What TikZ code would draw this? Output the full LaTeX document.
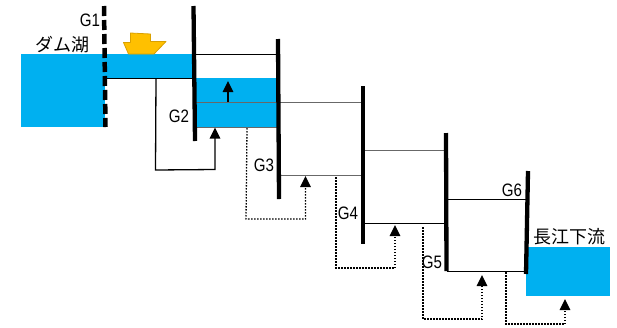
\documentclass[tikz,border=0pt]{standalone}
\usepackage{fontspec}
\setmainfont[FakeStretch=0.84]{Liberation Sans}
\newfontfamily\cjk{Noto Sans CJK JP}
\usetikzlibrary{arrows.meta}
\definecolor{water}{HTML}{00B0F0}
\definecolor{boatfill}{HTML}{FFC000}
\definecolor{boatedge}{HTML}{D9A000}
\definecolor{lvl}{HTML}{686868}
\tikzset{
  gate/.style={line width=4.3pt,black},
  gatedash/.style={line width=4.5pt,black,dash pattern=on 10pt off 4pt},
  levelk/.style={line width=1pt,black},
  levelg/.style={line width=1.3pt,lvl},
  flow/.style={line width=1.3pt,black,-{Triangle[length=11pt,width=10.5pt]}},
  dotflow/.style={line width=1.3pt,black,dash pattern=on 1.5pt off 1.5pt,-{Triangle[length=11pt,width=10.5pt]}},
  lab/.style={font=\fontsize{18}{18}\selectfont,inner sep=0pt,text=black},
  jlab/.style={font=\cjk\fontsize{18}{18}\selectfont,inner sep=0pt,text=black},
}
\begin{document}
\begin{tikzpicture}[x=1pt,y=-1pt]
\useasboundingbox (0,0) rectangle (617,327);
% water
\fill[water] (21,54) rectangle (105,127);
\fill[water] (105,54) rectangle (193,78);
\fill[water] (195,78) rectangle (278,127);
\fill[water] (526,247) rectangle (610,296);
% boat
\filldraw[fill=boatfill,draw=boatedge,line width=0.8pt,line join=round]
 (123.5,42.5) -- (130.5,42.5) -- (130.5,33) -- (150.5,34) -- (150.5,41.5) -- (166,41.5) -- (154,54) -- (128.5,54) -- cycle;
% gate ends
\coordinate (g1t) at (104,6);   \coordinate (g1b) at (105.5,127);
\coordinate (g2t) at (193.5,6); \coordinate (g2b) at (195,141);
\coordinate (g3t) at (278,39);  \coordinate (g3b) at (279,199);
\coordinate (g4t) at (363,86);  \coordinate (g4b) at (363,244);
\coordinate (g5t) at (446,133); \coordinate (g5b) at (446.5,271);
\coordinate (g6t) at (528,171); \coordinate (g6b) at (526,274);
% levels
\coordinate (l1a) at (195,54.5);  \coordinate (l1b) at (278,54.5);
\coordinate (l0a) at (105,78.5);  \coordinate (l0b) at (193,78.5);
\coordinate (l2a) at (196,102.5); \coordinate (l2b) at (278,102.5);
\coordinate (l3a) at (196,127.5); \coordinate (l3b) at (278,127.5);
\coordinate (l4a) at (279,102.5); \coordinate (l4b) at (363,102.5);
\coordinate (l5a) at (279,175.5); \coordinate (l5b) at (363,175.5);
\coordinate (l6a) at (363,150.5); \coordinate (l6b) at (446,150.5);
\coordinate (l7a) at (363,223.5); \coordinate (l7b) at (446,223.5);
\coordinate (l8a) at (446,199.5); \coordinate (l8b) at (527,199.5);
\coordinate (l9a) at (447,271.5); \coordinate (l9b) at (527,271.5);
\draw[levelk] (l1a) -- (l1b);
\draw[levelk] (l0a) -- (l0b);
\draw[levelg] (l2a) -- (l2b);
\draw[levelg] (l3a) -- (l3b);
\draw[levelg] (l4a) -- (l4b);
\draw[levelg] (l5a) -- (l5b);
\draw[levelg] (l6a) -- (l6b);
\draw[levelk] (l7a) -- (l7b);
\draw[levelk] (l8a) -- (l8b);
\draw[levelk] (l9a) -- (l9b);
% gates
\draw[gatedash] (g1t) -- (g1b);
\draw[gate] (g2t) -- (g2b);
\draw[gate] (g3t) -- (g3b);
\draw[gate] (g4t) -- (g4b);
\draw[gate] (g5t) -- (g5b);
\draw[gate] (g6t) -- (g6b);
% flows
\coordinate (a1) at (228,102); \coordinate (a2) at (228,81);
\draw[flow] (a1) -- (a2);
\coordinate (s1) at (156,78); \coordinate (s2) at (155.5,170); \coordinate (s3) at (215,169.5); \coordinate (s4) at (215,127.5);
\draw[flow] (s1) -- (s2) -- (s3) -- (s4);
\coordinate (d1) at (247,128); \coordinate (d2) at (246,219); \coordinate (d3) at (305.5,219); \coordinate (d4) at (305.5,176);
\draw[dotflow] (d1) -- (d2) -- (d3) -- (d4);
\coordinate (e1) at (336,177); \coordinate (e2) at (336,268); \coordinate (e3) at (395,268); \coordinate (e4) at (395,225);
\draw[dotflow] (e1) -- (e2) -- (e3) -- (e4);
\coordinate (f1) at (423,227); \coordinate (f2) at (423,319); \coordinate (f3) at (482,319); \coordinate (f4) at (482,275);
\draw[dotflow] (f1) -- (f2) -- (f3) -- (f4);
\coordinate (h1) at (506,272); \coordinate (h2) at (506,324); \coordinate (h3) at (565,324); \coordinate (h4) at (565,299);
\draw[dotflow] (h1) -- (h2) -- (h3) -- (h4);
% labels
\node[lab] (G1) at (90,20.5) {G1};
\node[lab] (G2) at (179,116) {G2};
\node[lab] (G3) at (264,165) {G3};
\node[lab] (G4) at (348,213) {G4};
\node[lab] (G5) at (432,262) {G5};
\node[lab] (G6) at (512,190) {G6};
\node[jlab] (dam) at (62.5,44.5) {ダム湖};
\node[jlab] (yz) at (569,237) {長江下流};
\end{tikzpicture}
\end{document}
